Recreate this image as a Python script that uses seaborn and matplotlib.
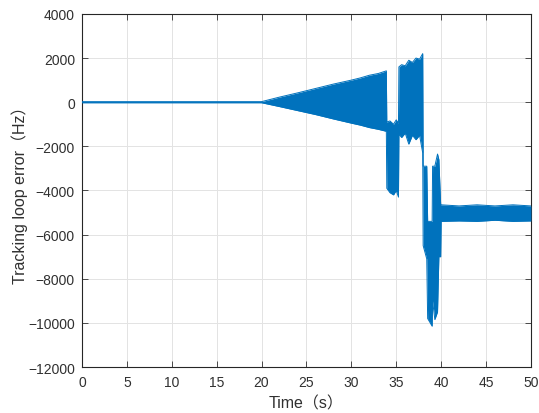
import matplotlib
matplotlib.use("Agg")
import matplotlib.pyplot as plt
import seaborn as sns
import pandas as pd
import numpy as np

# Envelope of the tracking loop error signal
time = [0, 20, 22, 24, 26, 28, 30, 31, 32, 33, 33.9,
        33.95, 34.3, 34.7, 35.0, 35.25,
        35.3, 35.6, 36.0, 36.4, 36.8, 37.2, 37.6, 37.95,
        38.0, 38.4, 38.5, 39.0, 39.05, 39.3, 39.6, 39.75, 39.95,
        40.0, 42, 44, 46, 48, 50]
upper = [25, 25, 230, 420, 620, 820, 1000, 1100, 1220, 1300, 1420,
         -900, -850, -1000, -800, -950,
         1600, 1700, 1650, 1900, 1800, 2000, 1950, 2200,
         -2900, -2900, -5400, -5400, -2900, -2900, -2350, -2600, -4650,
         -4650, -4700, -4650, -4700, -4650, -4700]
lower = [-25, -25, -200, -380, -560, -760, -950, -1040, -1150, -1230, -1320,
         -3900, -4100, -4200, -4000, -4300,
         -1450, -1600, -1400, -1900, -1500, -1700, -1500, -2300,
         -6500, -7100, -9800, -10150, -9000, -9850, -9500, -7000, -7000,
         -5400, -5380, -5400, -5350, -5400, -5380]

x_ticks = list(range(0, 51, 5))
y_ticks = list(range(-12000, 4001, 2000))

sns.set_theme(style="white")
plt.rcParams['font.family'] = ['Liberation Sans', 'Noto Sans CJK SC']

blue = "#0072BD"
txt = "#303030"

fig = plt.figure(figsize=(5.39, 4.14), dpi=100)
ax = fig.add_axes([0.152, 0.111, 0.833, 0.853])

df = pd.DataFrame({"t": time, "upper": upper, "lower": lower})
ax.fill_between(df["t"], df["lower"], df["upper"], color=blue, lw=0, zorder=3)
sns.lineplot(data=df, x="t", y="upper", ax=ax, color=blue, lw=0.7,
             estimator=None, sort=False, zorder=4)
sns.lineplot(data=df, x="t", y="lower", ax=ax, color=blue, lw=0.7,
             estimator=None, sort=False, zorder=4)

ax.set_xlim(0, 50)
ax.set_ylim(-12000, 4000)
ax.set_xticks(x_ticks)
ax.set_yticks(y_ticks)
ax.grid(True, color="#e3e3e3", lw=0.7, zorder=0)
ax.set_axisbelow(True)
for s in ax.spines.values():
    s.set_color("#262626")
    s.set_linewidth(0.8)
ax.tick_params(direction="in", length=4, width=0.6, colors=txt,
               labelsize=10, top=True, right=True, bottom=True, left=True)
ax.tick_params(axis="x", pad=6)
ax.tick_params(axis="y", pad=5)
ax.set_xlabel("Time（s）", fontsize=11.5, color=txt, labelpad=4)
ax.set_ylabel("Tracking loop error（Hz）", fontsize=11.5, color=txt, labelpad=0)

fig.savefig("out.png", dpi=100, facecolor="white")
